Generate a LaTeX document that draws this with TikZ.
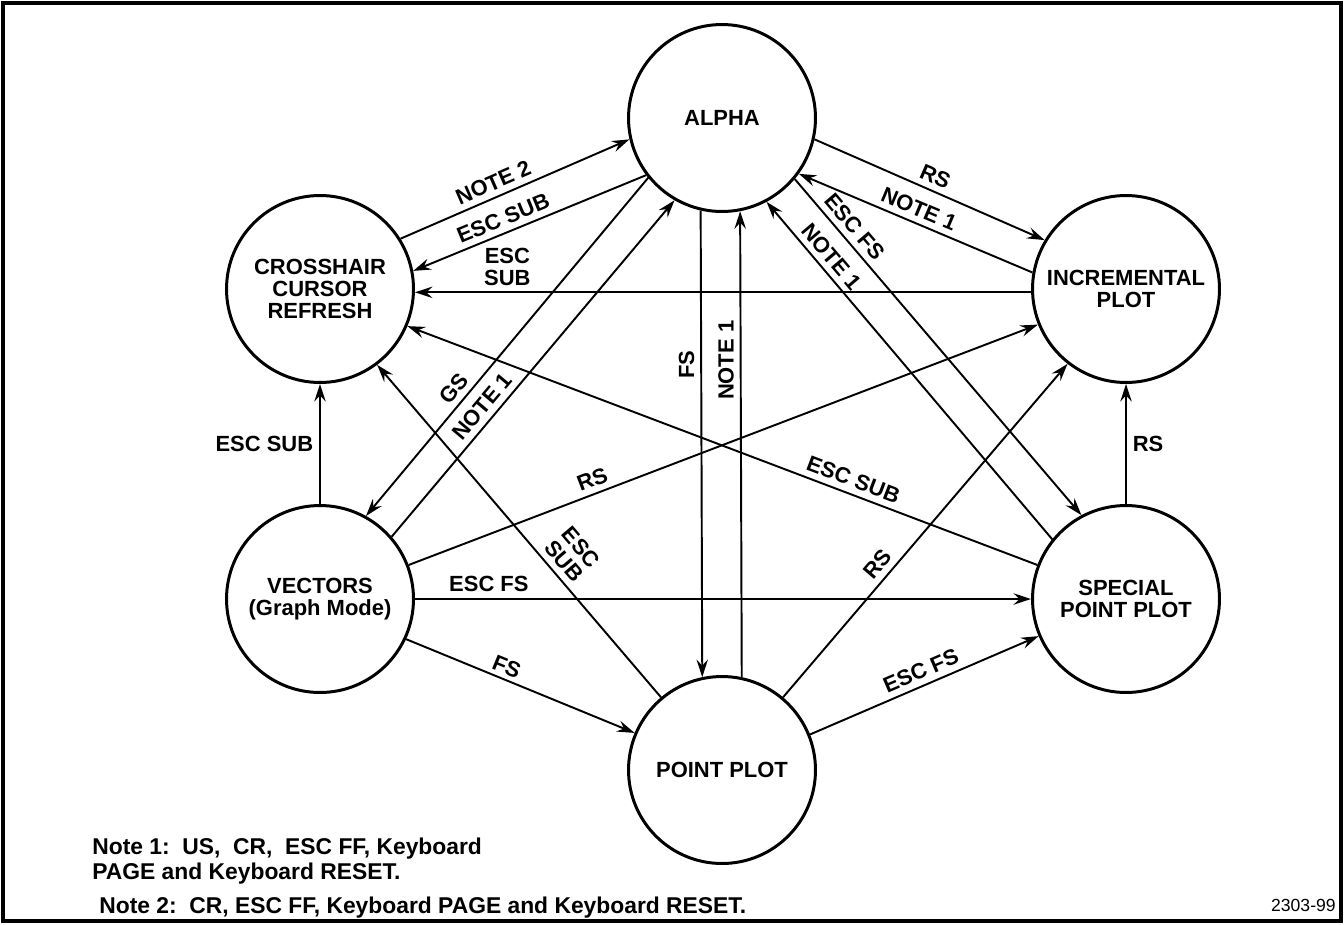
\documentclass[tikz,border=0pt]{standalone}
\usepackage{fontspec}
\setmainfont{Liberation Sans}
\usetikzlibrary{arrows.meta, positioning}

\begin{document}
\begin{tikzpicture}[x=0.02cm, y=-0.02cm, font=\bfseries\fontsize{12.5}{12.5}\selectfont,
    modecircle/.style={draw, circle, line width=1.7pt, minimum size=3.74cm, inner sep=0pt, align=center},
    trans/.style={-{Stealth[length=10pt, width=6.5pt, inset=3.5pt]}, line width=1.1pt},
    lbl/.style={sloped, above}]
    \useasboundingbox (0,0) rectangle (1344,924);
    \draw[line width=1.8pt] (3,3) rectangle (1341,921);

    % the six modes
    \node[modecircle] (alpha) at (722,118) {ALPHA};
    \node[modecircle] (cursor) at (320,289) {CROSSHAIR\\CURSOR\\REFRESH};
    \node[modecircle] (incr) at (1126,289) {INCREMENTAL\\PLOT};
    \node[modecircle] (vectors) at (320,599) {VECTORS\\(Graph Mode)};
    \node[modecircle] (special) at (1126,599) {SPECIAL\\POINT PLOT};
    \node[modecircle] (point) at (722,770) {POINT PLOT};

    % transitions
    \draw[trans] (cursor.32.5) -- node[lbl, pos=0.43] {NOTE 2} (alpha.193);
    \draw[trans] (alpha.217.5) -- node[lbl, pos=0.59] {ESC SUB} (cursor.11);
    \draw[trans] (incr.182) -- node[above, pos=0.85, align=center] {ESC\\SUB} (cursor.358);
    \draw[trans] (alpha.347) -- node[lbl, pos=0.5] {RS} (incr.149.4);
    \draw[trans] (incr.170.3) -- node[lbl, pos=0.51] {NOTE 1} (alpha.324.8);
    \draw[trans] (alpha.320.4) -- node[lbl, pos=0.17] {ESC FS} (special.118.1);
    \draw[trans] (special.141.3) -- node[lbl, pos=0.81] {NOTE 1} (alpha.298.4);
    \draw[trans] (alpha.257.8) -- node[rotate=90, above, pos=0.33] {FS} (point.102.2);
    \draw[trans] (point.78.5) -- node[rotate=90, above, pos=0.68] {NOTE 1} (alpha.281.5);
    \draw[trans] (vectors.north) -- node[left] {ESC SUB} (cursor.south);
    \draw[trans] (alpha.219.6) -- node[lbl, pos=0.65] {GS} (vectors.61.3);
    \draw[trans] (vectors.41.2) -- node[lbl, pos=0.36] {NOTE 1} (alpha.240);
    \draw[trans] (vectors.21.4) -- node[lbl, pos=0.30] {RS} (incr.202);
    \draw[trans] (special.159.5) -- node[lbl, pos=0.30] {ESC SUB} (cursor.337.6);
    \draw[trans] (point.130.3) -- node[lbl, pos=0.38, align=center] {ESC\\SUB} (cursor.307.6);
    \draw[trans] (vectors.east) -- node[above, pos=0.12] {ESC FS} (special.west);
    \draw[trans] (vectors.335.5) -- node[lbl, pos=0.42, inner sep=2pt] {FS} (point.157.4);
    \draw[trans] (point.50) -- node[lbl, pos=0.37] {RS} (incr.232);
    \draw[trans] (point.22.9) -- node[lbl, pos=0.51] {ESC FS} (special.203.1);
    \draw[trans] (special.north) -- node[right] {RS} (incr.south);

    % notes
    \node[anchor=north west, align=left, inner sep=0pt, font=\bfseries\fontsize{13}{14}\selectfont] (note1) at (92,838)
        {Note 1:\ \ US,\ \ CR,\ \ ESC FF, Keyboard\\PAGE and Keyboard RESET.};
    \node[below=7pt of note1.south west, anchor=north west, xshift=4pt, inner sep=0pt, font=\bfseries\fontsize{13}{14}\selectfont] (note2)
        {Note 2:\ \ CR, ESC FF, Keyboard PAGE and Keyboard RESET.};
    \node[anchor=south east, inner sep=0pt, font=\fontsize{10}{11}\selectfont] (figno) at (1336,912) {2303-99};
\end{tikzpicture}
\end{document}
